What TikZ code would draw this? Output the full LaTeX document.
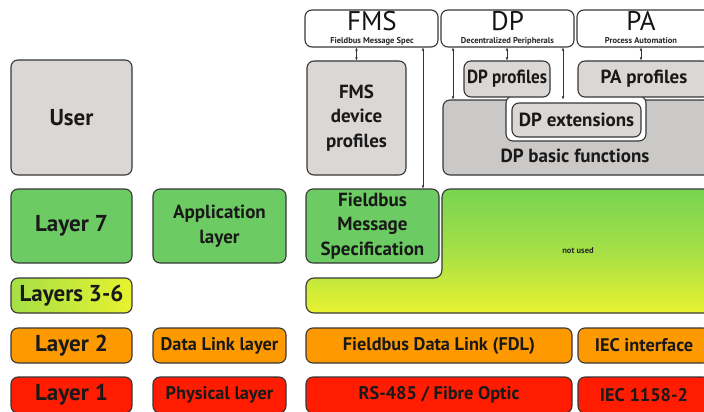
\documentclass[tikz,border=0pt]{standalone}
\usepackage{fontspec}
\usepackage{graphicx}
\setmainfont{PT Sans}
\usetikzlibrary{arrows.meta}
\definecolor{ugray}{RGB}{218,215,213}
\definecolor{dgray}{RGB}{203,201,199}
\definecolor{lgreen}{RGB}{108,203,98}
\definecolor{orng}{RGB}{255,153,0}
\definecolor{rred}{RGB}{255,28,0}
\definecolor{ygreen}{RGB}{232,242,48}
\definecolor{gyel}{RGB}{120,212,82}
\definecolor{lyel}{RGB}{165,224,70}
\definecolor{edge}{RGB}{55,55,55}
\begin{document}
\begin{tikzpicture}[x=1pt,y=-1pt,
  box/.style={draw=edge, line width=1.1pt, rounded corners=7pt, inner sep=0pt, align=center, text=black!90, font=\fontsize{19}{24.5}\selectfont\bfseries},
  big/.style={font=\fontsize{23}{25}\selectfont\bfseries},
  mid/.style={font=\fontsize{18.3}{20}\selectfont\bfseries},
  hdr/.style={font=\fontsize{27}{27}\selectfont, inner sep=0pt, text=black!92},
  sub/.style={font=\fontsize{8.5}{9}\selectfont\bfseries, inner sep=0pt, text=black!85},
  arr/.style={{Latex[length=3pt,width=2.6pt]}-{Latex[length=3pt,width=2.6pt]}, line width=0.5pt, draw=black!80}]
\useasboundingbox (0,0) rectangle (704,412);
\clip (0,0) rectangle (704,412);

% left column
\node[box, big, fill=ugray, minimum width=121pt, minimum height=115pt] (user) at (71.5,117.5) {User};
\node[box, big, fill=lgreen, minimum width=121pt, minimum height=74pt] (l7) at (71.5,226) {Layer 7};
\node[box, big, left color=lyel, right color=ygreen, minimum width=121pt, minimum height=35pt] (l36) at (71.5,295.5) {Layers 3-6};
\node[box, big, fill=orng, minimum width=121pt, minimum height=35pt] (l2) at (71.5,345.5) {Layer 2};
\node[box, big, fill=rred, minimum width=121pt, minimum height=36pt] (l1) at (71.5,395) {Layer 1};

% second column
\node[box, fill=lgreen, minimum width=133pt, minimum height=74pt] (app) at (219.5,226) {Application\\layer};
\node[box, mid, fill=orng, minimum width=133pt, minimum height=35pt] (dll) at (219.5,345.5) {Data Link layer};
\node[box, mid, fill=rred, minimum width=133pt, minimum height=36pt] (phy) at (219.5,395) {Physical layer};

% not used area
\shade[top color=gyel, bottom color=ygreen, middle color=lyel, draw=edge, line width=1.1pt, rounded corners=8pt]
  (306,313) -- (306,278) -- (442,278) -- (442,189) -- (712,189) -- (712,313) -- cycle;
\node[sub] (notused) at (578,251) {not used};

% FMS column
\node[box, fill=white, minimum width=133pt, minimum height=37pt] (fmsh) at (371.5,28.5) {};
\node[hdr, anchor=base] (fmst) at (372,31) {FMS};
\node[sub, anchor=base] (fmss) at (372,44) {Fieldbus Message Spec};
\node[box, fill=ugray, minimum width=99pt, minimum height=114pt] (fmsdev) at (356.5,118) {FMS\\device\\profiles};
\node[box, fill=lgreen, minimum width=133pt, minimum height=74pt] (fms7) at (372.5,226) {Fieldbus\\Message\\Specification};
\node[box, mid, fill=orng, minimum width=266pt, minimum height=35pt] (fdl) at (439,345.5) {Fieldbus Data Link (FDL)};
\node[box, mid, fill=rred, minimum width=266pt, minimum height=36pt] (rs) at (439,395) {RS-485 / Fibre Optic};
\node[box, mid, fill=orng, minimum width=132pt, minimum height=35pt] (iecif) at (644,345.5) {IEC interface};
\node[box, mid, fill=rred, minimum width=132pt, minimum height=36pt] (iec) at (644,395) {IEC 1158-2};

% DP / PA
\node[box, fill=white, minimum width=133pt, minimum height=37pt] (dph) at (507.5,28.5) {};
\node[hdr, anchor=base] (dpt) at (507.5,31) {DP};
\node[sub, anchor=base] (dps) at (507.5,44) {Decentralized Peripherals};
\node[box, fill=white, minimum width=133pt, minimum height=37pt] (pah) at (643.5,28.5) {};
\node[hdr, anchor=base] (pat) at (641,31) {PA};
\node[sub, anchor=base] (pas) at (641,44) {Process Automation};

\node[box, fill=dgray, minimum width=269pt, minimum height=75pt] (dpbasic) at (577.5,137.5) {};
\node[box, draw=none, fill=none] (dpbt) at (575,156) {DP basic functions};
\draw[draw=edge, fill=white, line width=1.1pt, rounded corners=7pt] (506,96) rectangle (646,141);
\fill[white] (511,94) rectangle (641,101.5);
\node[box, fill=ugray, minimum width=129pt, minimum height=34pt] (dpext) at (576.5,120) {DP extensions};
\node[box, fill=ugray, minimum width=86pt, minimum height=36pt] (dpprof) at (507,79) {\scalebox{0.9}[1]{DP profiles}};
\node[box, fill=ugray, minimum width=132pt, minimum height=36pt] (paprof) at (644,79) {PA profiles};

% arrows
\coordinate (a1) at (423,0);
\coordinate (a2) at (453,0);
\coordinate (a3) at (563,0);
\coordinate (a4) at (641,0);
\draw[arr] (fmsh.south -| fmsdev.north) -- (fmsdev.north);
\draw[arr] (fmsh.south -| a1) -- (fms7.north -| a1);
\draw[arr] (dph.south -| a2) -- (dpbasic.north -| a2);
\draw[arr] (dph.south -| dpprof.north) -- (dpprof.north);
\draw[arr] (dph.south -| a3) -- (dpbasic.north -| a3);
\draw[arr] (pah.south -| a4) -- (paprof.north -| a4);
\end{tikzpicture}
\end{document}
